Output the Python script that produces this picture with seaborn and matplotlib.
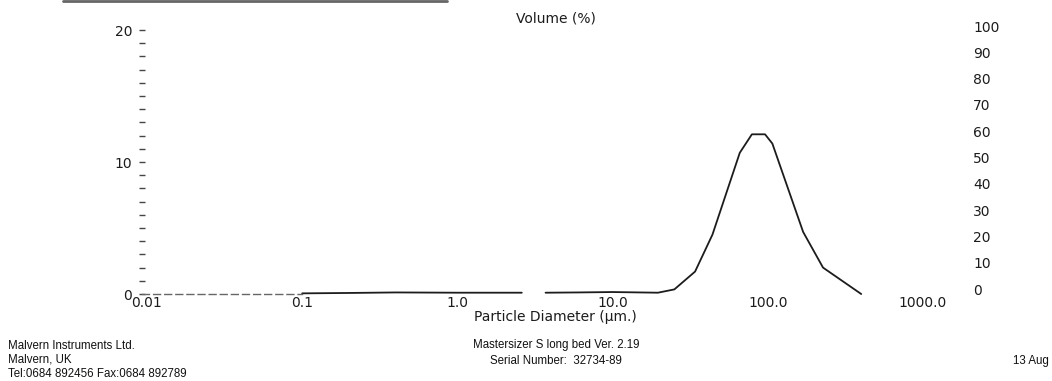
import matplotlib
matplotlib.use("Agg")
import matplotlib.pyplot as plt
import seaborn as sns
import pandas as pd
from matplotlib import font_manager
from matplotlib.lines import Line2D
from matplotlib.ticker import FixedLocator, FixedFormatter, MultipleLocator

# Volume distribution (%) against particle diameter (µm)
fine_diameter = [0.1, 0.2, 0.4, 1.0, 2.0, 2.6]
fine_volume = [0.05, 0.08, 0.12, 0.1, 0.1, 0.1]
main_diameter = [3.7, 6.0, 10.0, 15.0, 19.6, 25.0, 34.0, 44.0, 66.0,
                 79.0, 96.0, 107.0, 169.0, 227.0, 400.0]
main_volume = [0.1, 0.12, 0.15, 0.12, 0.1, 0.35, 1.7, 4.5, 10.7,
               12.1, 12.1, 11.4, 4.7, 2.0, 0.0]

x_tick_values = [0.01, 0.1, 1.0, 10.0, 100.0, 1000.0]
x_tick_labels = ["0.01", "0.1", "1.0", "10.0", "100.0", "1000.0"]
left_tick_values = [0, 10, 20]
right_tick_values = [0, 10, 20, 30, 40, 50, 60, 70, 80, 90, 100]

sns.set_style("white")
plt.rcParams["font.family"] = ["DejaVu Sans"]

names = {f.name for f in font_manager.fontManager.ttflist}
if "Liberation Sans Narrow" in names:
    footer_font, footer_size = "Liberation Sans Narrow", 9.5
else:
    footer_font, footer_size = "Liberation Sans", 8.3

W, H = 1052, 381
fig = plt.figure(figsize=(W / 100, H / 100), dpi=100)
ax = fig.add_axes([142 / W, 1 - 296 / H, (968 - 142) / W, 276 / H])

ink = "#1c1c1c"
fine = pd.DataFrame({"diameter": fine_diameter, "volume": fine_volume})
main = pd.DataFrame({"diameter": main_diameter, "volume": main_volume})
for seg in (fine, main):
    sns.lineplot(data=seg, x="diameter", y="volume", ax=ax, color=ink,
                 linewidth=1.3, sort=False, estimator=None)

ax.set_xscale("log")
ax.set_xlim(10 ** -2.032, 10 ** 3.290)
ax.set_ylim(-0.15, 20.76)

for side in ("top", "right", "left"):
    ax.spines[side].set_visible(False)
ax.spines["bottom"].set_position(("data", 0))
ax.spines["bottom"].set_bounds(10 ** -2.032, 0.1)
ax.spines["bottom"].set_linestyle((0, (5, 3)))
ax.spines["bottom"].set_color("#666666")
ax.spines["bottom"].set_linewidth(1.0)

ax.xaxis.set_major_locator(FixedLocator(x_tick_values))
ax.xaxis.set_major_formatter(FixedFormatter(x_tick_labels))
ax.xaxis.set_minor_locator(FixedLocator([]))
ax.tick_params(axis="x", which="both", length=0, pad=1.5,
               labelsize=10, colors=ink)

ax.yaxis.set_major_locator(FixedLocator(left_tick_values))
ax.yaxis.set_minor_locator(MultipleLocator(1))
ax.tick_params(axis="y", which="both", direction="inout", length=4,
               width=1.0, color="#444444", left=True)
ax.tick_params(axis="y", which="major", labelsize=10, pad=5,
               labelcolor=ink)

ax.set_xlabel("Particle Diameter (µm.)", fontsize=10, color=ink,
              labelpad=0)
ax.set_ylabel("")

# Right-hand cumulative scale (labels only)
ax2 = ax.twinx()
ax2.set_ylim(-2.66, 102.3)
ax2.yaxis.set_major_locator(FixedLocator(right_tick_values))
for side in ("top", "right", "left", "bottom"):
    ax2.spines[side].set_visible(False)
ax2.tick_params(axis="y", length=0, pad=3.6, labelsize=10,
                labelcolor=ink)

fig.text(556 / W, 1 - 18 / H, "Volume (%)", ha="center", va="center",
         fontsize=10, color=ink)

# Instrument footer
ff = dict(family=footer_font, fontsize=footer_size, color="#111111")
fig.text(8 / W, 1 - 346 / H, "Malvern Instruments Ltd.", ha="left",
         va="center", **ff)
fig.text(8 / W, 1 - 360 / H, "Malvern, UK", ha="left", va="center", **ff)
fig.text(8 / W, 1 - 374 / H, "Tel:0684 892456 Fax:0684 892789",
         ha="left", va="center", **ff)
fig.text(556 / W, 1 - 345 / H, "Mastersizer S long bed Ver. 2.19",
         ha="center", va="center", **ff)
fig.text(556 / W, 1 - 361 / H, "Serial Number:  32734-89",
         ha="center", va="center", **ff)
fig.text(1013 / W, 1 - 361 / H, "13 Aug", ha="left", va="center", **ff)

# Rule at the top edge of the sheet
fig.add_artist(Line2D([63 / W, 447 / W], [1 - 1 / H, 1 - 1 / H],
                      transform=fig.transFigure, color="#666666",
                      linewidth=2.0))

fig.savefig("out.png", dpi=100, facecolor="white")
